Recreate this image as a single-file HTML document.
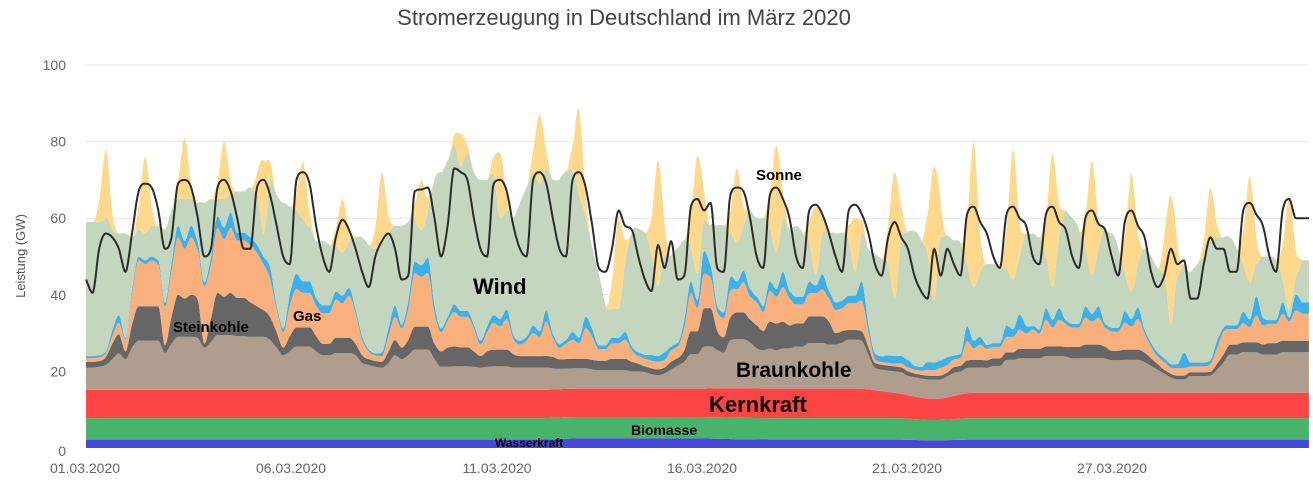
<!DOCTYPE html>
<html><head><meta charset="utf-8"><style>
html,body{margin:0;padding:0;background:#fff;}
svg{display:block;font-family:"Liberation Sans",Arial,sans-serif;}
</style></head><body>
<svg id="chart" width="1313" height="481" viewBox="0 0 1313 481" xmlns="http://www.w3.org/2000/svg">
<text x="624" y="25" text-anchor="middle" font-size="22" fill="#444">Stromerzeugung in Deutschland im März 2020</text>
<text transform="translate(25,256) rotate(-90)" text-anchor="middle" font-size="13" fill="#555">Leistung (GW)</text>
<g id="grid"></g>
<g id="areas"></g>
<g id="lineg"></g>
<g id="yticks"></g>
<g id="xticks"></g>
<g font-weight="bold" fill="#000">
<text x="173" y="332" font-size="15">Steinkohle</text>
<text x="293" y="321" font-size="15">Gas</text>
<text x="473" y="294" font-size="22">Wind</text>
<text x="756" y="180" font-size="15">Sonne</text>
<text x="736" y="377" font-size="21">Braunkohle</text>
<text x="709" y="412" font-size="22">Kernkraft</text>
<text x="631" y="435" font-size="14">Biomasse</text>
<text x="495" y="447" font-size="12">Wasserkraft</text>
</g>
</svg>
<script>
// daily series (31 days)
var hydro=[2.2,2.2,2.2,2.2,2.2,2.2,2.2,2.2,2.2,2.2,2.2,2.2,2.5,2.5,2.5,2.5,2.3,2.2,2.2,2.2,2.2,2.0,2.2,2.2,2.2,2.2,2.2,2.2,2.2,2.2,2.2];
var biomass=[5.6,5.6,5.6,5.6,5.6,5.6,5.6,5.6,5.6,5.6,5.6,5.6,5.6,5.6,5.6,5.6,5.6,5.6,5.6,5.6,5.6,5.3,5.6,5.6,5.6,5.6,5.6,5.6,5.6,5.6,5.6];
var nuclear=[7.4,7.4,7.4,7.4,7.4,7.4,7.4,7.4,7.4,7.4,7.4,7.4,7.4,7.4,7.4,7.4,7.7,7.7,7.7,7.7,6.6,5.5,6.6,6.6,6.6,6.6,6.6,6.6,6.6,6.6,6.6];
// 4-hourly series (6 per day)
var lignite=[5.8,5.8,6,6.5,8,9.5, 8,11,12.8,12.8,12.8,12.8, 9.6,12,13.8,13.8,13.8,13.5, 11,12.5,14.3,14.3,14.3,14, 14,13.8,13.8,13.8,13,11, 9,10,11.3,11.3,11.3,10, 9,9,9.6,9.6,9.6,9, 7,6.5,6,5.8,7,9, 8,9,10.5,10.5,10.5,8, 6,6,6.1,6.1,6.1,6, 5.8,6,6.1,6.1,6.1,5.8, 5.8,5.8,5.8,5.8,5.8,5.5, 5.3,5.3,5.3,5.3,5.3,5, 4.8,4.8,4.8,4.8,4.8,4.5, 4.5,4.3,3.8,3.5,4,5, 6,7,9,9,11,11, 10,9.3,12.5,12.8,12.8,12, 10.5,10,10.5,10,10.5,10.5, 11,11,11.9,11.9,11.9,11.5, 11.5,12,12.8,12.8,12.5,9, 5.8,5.6,5.6,5.6,5.6,5, 5,5,5,5,5,5.5, 6,6,6.6,6.6,6.6,6.5, 7,7,8.6,8.6,9,9, 9,9,9.6,9.6,9.6,9.5, 9,9,9.1,9.1,9.1,9, 8.5,8.5,8.6,8.6,8.6,8, 7,6,5,4,3.5,3.5, 4.4,4.4,4.4,4.5,6,8, 10,10,10.6,10.6,10.6,10, 10,10,10.6,10.6,10.6,10.6];
var hardcoal=[1.5,1.5,1.5,2,4,5, 2,6,9,9,9,9, 2,7,11,10,11,10, 1,6,11,10,11,10, 10,9,8,7,6,4, 2,4,5,5,5,4, 3,3,4,4,4,3, 2,1.5,1.5,1.5,3,4, 3,4,6,6,6,4, 4,5,5.2,5,5,4, 3,4,4.4,4.4,4.4,3.5, 3,3,3,3,3,3, 2.5,2.5,2.5,2.5,2.5,2.5, 2.5,2.5,3,3,3,2.5, 2,1.5,1.5,1.5,1.5,2, 2,3,6,6,10,10, 5,4,6,7,7,6, 6,5,7,7,7,6, 6,6,7,7,7,6, 3,3,2.5,2.5,2.5,2, 1.3,1.3,1.3,1.3,1.3,1.2, 1,1,1,1,1,1, 1.5,1.5,2,2,2,2, 2,2,2,2,2.5,2.5, 2.5,2.5,2.5,2.5,2.5,2.5, 3,3,3.5,3.5,3.5,3, 2.5,2.5,2.7,2.7,2.7,2.5, 2,1.5,1,1,1,1, 1,1,1,1,1.5,2, 2.6,2.6,2.6,2.6,2.6,2.6, 3,3,3,3,3,3];
var gas=[1,1,1,1,2,3, 3,8,12,11,12,11, 10,12,15,13,15,13, 15,14,17,15,17,15, 15,15,14,12,10,6, 4,8,10,9,9,8, 8,8,10,9,11,8, 4,2,1.5,1.5,4,6, 5,8,14,13,14,8, 5,7,9,8,8,6, 3,5,7,6,8,4, 3,4,6,5,9,5, 3,4,5,4,8,6, 3,3,4,4,5,3, 2,2,2,2,2,3, 3,6,10,6,9,8, 5,5,7,6,8,6, 6,5,8,7,9,7, 5,5,6,6,7,6, 6,6,7,7,8,4, 1,0.7,0.7,0.7,1,1, 1,1,1.5,1.5,2,2, 2,2,5,3,4,3, 3,3,4,4,5,4, 5,4,7,5,7,6, 5,5,7,6,7,5, 5,5,7,6,8,5, 3,2,2,1.5,2,2, 1.5,1.5,1.5,2,4,6, 4,4,5,4,7,5, 5,5,7,5,8,7];
var pumped=[0.5,0.5,0.5,0.5,1.5,2, 0.5,1,1,1,1,1, 1,2,3,2,3,2, 1,2,3,3,4,2, 2,2,2,2,3,1, 1,3,4,3,3,2, 2,2,2,2,2,1, 1,0.5,0.5,1,2,3, 1,2,3,3,4,2, 1,1,2,1.5,1.5,1, 1,1.5,2,2,2.5,1, 1,1,2,1.5,3,1, 1,1,2,1.5,3,2, 1,1,1.5,1.5,2,1, 1,1,1.5,1.5,2,1, 1,2,3,2,6,3, 1.5,1.5,3.5,2,3,2, 1.5,1.5,2.5,2,4,2, 2,2,3,2,4,2, 2,2,2,2,5,2, 1.5,1.5,2,2,2,2, 1,1,2,2,2,2, 1,1,4,2,2,1, 1,1,3,2,4,2, 1,1,3,2,3,1, 1,1,3,2,3,1, 1,1,3,2,3,1, 1,1,1,1,1,4, 1,1,1,1,2,1, 1,1,3,2,5,2, 1,1,3,1,4,3];
var wind=[35,35,34.8,34.8,26.3,21.3, 27.3,13.8,7,7,8,9, 19.2,13.8,7,11,7,10.3, 20.8,15.3,4.5,7.5,4.5,10.8, 10.8,13,13,6,22.8,28.8, 32.8,22.8,16.5,16.2,14.2,14.8, 16.8,15.8,12.2,11.2,12.2,18.8, 25.8,27.3,27.3,28.5,24.8,20.8, 25.8,20.8,11.3,9.3,12.3,32.8, 40.8,40.8,41.5,37.7,41.2,39.8, 42,38.3,36.3,26.3,25.8,30.5, 36,39,40,38.5,37,40.3, 43,44,42,37.5,26,21.3, 18.5,10.5,7.5,7.5,18,29.8, 32.3,32,26,18.3,25.3,23.8, 24.8,20.8,8.8,6.8,7.8,10.8, 21,22.7,11.5,10.2,11.7,20.5, 20.5,23,14.5,9.5,14,16, 18.5,16.5,10.6,2.6,10.6,15, 18,17.5,14.2,6.2,12.5,19.5, 26,25.5,24,15,30.7,33.4, 35.2,33.2,28.2,16.2,32.2,31.7, 30.1,29.1,16,14,17,21.1, 20.6,19.6,15,13,15.1,24.1, 24.1,24.1,13.5,8.5,18.5,28.6, 27.6,24.6,15,10,15,24.6, 24.6,20.6,10.1,7.1,11.3,21.1, 22.6,22.1,21.6,10.1,23.1,23.1, 23.7,25.7,27.7,31.1,27.1,23.6, 23,20,12.4,9.4,8.4,16, 16.6,15.6,6,2,4.4,11];
var solar=[0,0,5.4,18,4.5,0, 0,0,6,20,5,0, 0,0,4.8,16,4,0, 0,0,4.5,15,3.8,0, 0,0,5.7,19,4.8,0, 0,0,4.5,15,3.8,0, 0,0,4.2,14,3.5,0, 0,0,5.6,18.5,4.6,0, 0,0,3.9,13,3.3,0, 0,0,2.6,8.5,2.1,0, 0,0,5.1,17,4.3,0, 0,0,5.4,18,4.5,0, 0,0,6.6,22,5.5,0, 0,0,7.2,24,6,0, 0,0,9.9,33,8.3,0, 0,0,9.3,31,7.8,0, 0,0,5.9,19.5,4.9,0, 0,0,8.4,28,7,0, 0,0,5.4,18,4.5,0, 0,0,4.2,14,3.5,0, 0,0,9.9,33,8.3,0, 0,0,10.5,35,8.8,0, 0,0,11.4,38,9.5,0, 0,0,10.2,34,8.5,0, 0,0,10.5,35,8.8,0, 0,0,9,30,7.5,0, 0,0,9.3,31,7.8,0, 0,0,10.2,34,8.5,0, 0,0,4.2,14,3.5,0, 0,0,8.4,28,7,0, 0,0,9,30,7.5,0];
var load=[44,40.5,52,56,55,52, 46,56,67,69,68,62, 52,55,69,70,68,60, 50,52,68,70,67,60, 52,52,68,70,66,58, 50,48,70,72,69,58, 50,46,55,59.6,57,52, 46,42,50,54,56,52, 44,45,67,67.5,68,60, 50,58,73,72,70,60, 52,50,69,70,67,58, 52,50,70,72,69,60, 52,50,70,72,68,58, 47,46,52,62,58,57, 50,44,41,53,47,54, 44,45,63,65,62,64, 47,46,66,68,67,60, 50,47,66,68,65,60, 50,47,62,63.5,61,56, 50,46,62,63.5,61,56, 48,45,55,59,55,52, 45,41,39,52,45,52, 48,45,61,63,59,56, 50,47,61,63,60,58, 50,48,61,63,59,57, 50,47,60,62,58.5,57, 50,45,59,62,58,55, 46,42,45,52,48,49, 39,39,48,55,52,52, 46,46,62,64,61,58, 50,46,62,65,60,60];
var yTicks=[0,20,40,60,80,100];
var xTickLabels=["01.03.2020","06.03.2020","11.03.2020","16.03.2020","21.03.2020","27.03.2020"];
var xTickPos=[85,291,497,702,907,1112];

var NS="http://www.w3.org/2000/svg";
var X0=86, PXDAY=39.45, Y0=448, PXGW=3.83, TEND=31;
function xs(t){return X0+t*PXDAY;}
function ys(v){return Y0-v*PXGW;}
function el(tag,attrs,parent){var e=document.createElementNS(NS,tag);for(var k in attrs)e.setAttribute(k,attrs[k]);parent.appendChild(e);return e;}

// monotone cubic (Fritsch-Carlson) evaluation
function monotone(px,py){
  var n=px.length,d=[],m=[];
  for(var i=0;i<n-1;i++)d.push((py[i+1]-py[i])/(px[i+1]-px[i]));
  m[0]=d[0];m[n-1]=d[n-2];
  for(var i=1;i<n-1;i++){m[i]=(d[i-1]*d[i]<=0)?0:(d[i-1]+d[i])/2;}
  for(var i=0;i<n-1;i++){
    if(d[i]===0){m[i]=0;m[i+1]=0;continue;}
    var a=m[i]/d[i],b=m[i+1]/d[i],s=a*a+b*b;
    if(s>9){var tt=3/Math.sqrt(s);m[i]=tt*a*d[i];m[i+1]=tt*b*d[i];}
  }
  return function(x){
    if(x<=px[0])return py[0];
    if(x>=px[n-1])return py[n-1];
    var lo=0,hi=n-1;
    while(hi-lo>1){var mid=(lo+hi)>>1;if(px[mid]>x)hi=mid;else lo=mid;}
    var h=px[hi]-px[lo],t=(x-px[lo])/h,t2=t*t,t3=t2*t;
    return (2*t3-3*t2+1)*py[lo]+(t3-2*t2+t)*h*m[lo]+(-2*t3+3*t2)*py[hi]+(t3-t2)*h*m[hi];
  };
}
function fourHourly(arr){var px=[];for(var i=0;i<arr.length;i++)px.push(i/6);return monotone(px,arr);}
function dailyFn(arr){var px=[];for(var i=0;i<arr.length;i++)px.push(i+0.5);return monotone(px,arr);}

var STEP=1/48;
var ts=[];for(var t=0;t<=TEND+1e-9;t+=STEP)ts.push(t);
var layers=[
 {name:"hydro",f:dailyFn(hydro),c:"#4747d9"},
 {name:"biomass",f:dailyFn(biomass),c:"#47b36b"},
 {name:"nuclear",f:dailyFn(nuclear),c:"#fe4444"},
 {name:"lignite",f:fourHourly(lignite),c:"#af9e8e"},
 {name:"hard-coal",f:fourHourly(hardcoal),c:"#666666"},
 {name:"gas",f:fourHourly(gas),c:"#f9b07c"},
 {name:"pumped-storage",f:fourHourly(pumped),c:"#3cb0ea"},
 {name:"wind",f:fourHourly(wind),c:"#c5d6bf"},
 {name:"solar",f:fourHourly(solar),c:"#ffd98b"}
];
var base=ts.map(function(){return 0;});
var grid=document.getElementById("grid");
for(var k=1;k<yTicks.length;k++){
  var gl=el("line",{x1:85,x2:1309,y1:ys(yTicks[k]),y2:ys(yTicks[k]),stroke:"#e6e6e6","stroke-width":1},grid);
  
  
}
var areas=document.getElementById("areas");
layers.forEach(function(L){
  var top=ts.map(function(t,i){return base[i]+Math.max(0,L.f(t));});
  var d="M"+xs(ts[0]).toFixed(1)+","+ys(top[0]).toFixed(1);
  for(var i=1;i<ts.length;i++)d+="L"+xs(ts[i]).toFixed(1)+","+ys(top[i]).toFixed(1);
  for(var i=ts.length-1;i>=0;i--)d+="L"+xs(ts[i]).toFixed(1)+","+ys(base[i]).toFixed(1);
  d+="Z";
  var p=el("path",{d:d,fill:L.c,stroke:"none"},areas);
  
  
  base=top;
});
var lg=document.getElementById("lineg");
var lf=fourHourly(load);
var ld="";
ts.forEach(function(t,i){ld+=(i?"L":"M")+xs(t).toFixed(1)+","+ys(lf(t)).toFixed(1);});
var lp=el("path",{d:ld,fill:"none",stroke:"#2b2b2b","stroke-width":2,"stroke-linejoin":"round"},lg);


var yt=document.getElementById("yticks");
yTicks.forEach(function(v){
  var t=el("text",{x:66,y:ys(v)+5+(v===0?3:0),"text-anchor":"end","font-size":14,fill:"#666"},yt);
  t.textContent=v;
  
  
});
var xt=document.getElementById("xticks");
xTickLabels.forEach(function(s,i){
  var t=el("text",{x:xTickPos[i],y:473,"text-anchor":"middle","font-size":14,fill:"#666"},xt);
  t.textContent=s;
  
  
});
</script>
</body></html>
